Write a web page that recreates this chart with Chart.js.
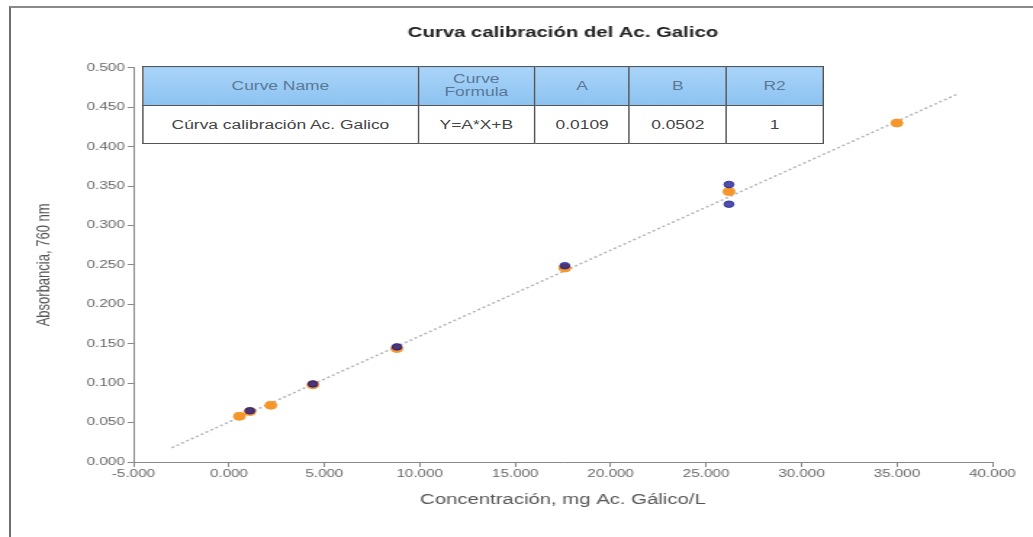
<!DOCTYPE html>
<html>
<head>
<meta charset="utf-8">
<script src="https://cdn.jsdelivr.net/npm/chart.js@4/dist/chart.umd.min.js"></script>
<style>
  body { margin: 0; background: #fff; }
  #wrap { position: relative; width: 1033px; height: 537px; overflow: hidden; }
  #frame { position: absolute; left: 9px; top: 6px; right: -5px; bottom: -5px;
           border-top: 2px solid #8a8a8a; border-left: 2px solid #6e6e6e; }
  /* la captura original esta estirada a lo ancho */
  #stretch { position: absolute; left: 0; top: 0; width: 712px; height: 537px;
             transform: scaleX(1.4508); transform-origin: 0 0; }
  canvas { position: absolute; left: 0; top: 0; }
  #curveTable { position: absolute; left: 98px; top: 66px; width: 470px; height: 78px;
                border-collapse: collapse; font-family: "Liberation Sans", Arial, sans-serif;
                font-size: 12px; background: #fff; }
  #curveTable td, #curveTable th { border: 1px solid #555; text-align: center; padding: 0 2px; font-weight: normal; }
  #curveTable th { background: linear-gradient(#a9d4f8, #8cc2f1); color: #5a7896; line-height: 13px; height: 38px; }
  #curveTable td { color: #444; height: 37px; }
</style>
</head>
<body>
<div id="wrap">
  <div id="frame"></div>
  <div id="stretch">
    <canvas id="chart" width="712" height="537"></canvas>
    <table id="curveTable"></table>
  </div>
</div>
<script>
// datos
const orangeX = [0.55, 1.1, 2.2, 4.4, 8.8, 17.6, 26.2, 35.0];
const orangeY = [0.058, 0.064, 0.072, 0.098, 0.144, 0.246, 0.343, 0.430];
const navyX = [1.1, 4.4, 8.8, 17.6, 26.2, 26.2];
const navyY = [0.065, 0.099, 0.146, 0.249, 0.352, 0.327];
const trendX = [-3.0, 38.2];
const trendY = [0.018, 0.467];

const tableHeaders = ["Curve Name", "Curve<br>Formula", "A", "B", "R2"];
const tableRow = ["Cúrva calibración Ac. Galico", "Y=A*X+B", "0.0109", "0.0502", "1"];
const colWidths = [198, 78, 63, 64, 67];

// tabla de la curva
const table = document.getElementById("curveTable");
table.innerHTML =
  "<tr>" + tableHeaders.map((h, i) => `<th style="width:${colWidths[i]}px">${h}</th>`).join("") + "</tr>" +
  "<tr>" + tableRow.map(v => `<td>${v}</td>`).join("") + "</tr>";

const toPoints = (xs, ys) => xs.map((x, i) => ({ x: x, y: ys[i] }));
const fam = "'Liberation Sans', Arial, sans-serif";
const tickFont = { family: fam, size: 10.5 };

new Chart(document.getElementById("chart").getContext("2d"), {
  type: "scatter",
  data: {
    datasets: [
      {
        label: "Replicas",
        data: toPoints(navyX, navyY),
        backgroundColor: "rgba(20, 20, 140, 0.75)",
        borderColor: "rgba(20, 20, 140, 0.75)",
        pointRadius: 3.3,
        pointHoverRadius: 3.3,
      },
      {
        label: "Estandares",
        data: toPoints(orangeX, orangeY),
        backgroundColor: "#f5962a",
        borderColor: "#f5962a",
        pointRadius: 4,
        pointHoverRadius: 4,
      },
      {
        label: "Ajuste",
        type: "line",
        data: toPoints(trendX, trendY),
        borderColor: "#b5b5b5",
        borderWidth: 1.5,
        borderDash: [2, 2],
        pointRadius: 0,
        fill: false,
      },
    ],
  },
  options: {
    responsive: false,
    animation: false,
    layout: { padding: { left: 0, right: 28, top: 0, bottom: 0 } },
    plugins: {
      legend: { display: false },
      tooltip: { enabled: false },
      title: {
        display: true,
        fullSize: false,
        text: "Curva calibración del Ac. Galico",
        color: "#222",
        font: { family: fam, size: 14, weight: "bold" },
        padding: { top: 25, bottom: 26 },
      },
    },
    scales: {
      x: {
        type: "linear",
        min: -5,
        max: 40,
        ticks: {
          stepSize: 5,
          color: "#666",
          font: tickFont,
          padding: 1,
          maxRotation: 0,
          callback: (v) => Number(v).toFixed(3),
        },
        grid: { drawOnChartArea: false, drawTicks: true, tickLength: 5, color: "#888" },
        border: { color: "#888" },
        title: {
          display: true,
          text: "Concentración, mg Ac. Gálico/L",
          color: "#555",
          font: { family: fam, size: 14 },
          padding: { top: 0, bottom: 28 },
        },
        afterFit: (scale) => { scale.height = 75; },
      },
      y: {
        type: "linear",
        min: 0,
        max: 0.5,
        ticks: {
          stepSize: 0.05,
          color: "#666",
          font: tickFont,
          padding: 2,
          callback: (v) => Number(v).toFixed(3),
        },
        grid: { drawOnChartArea: false, drawTicks: true, tickLength: 4, color: "#888" },
        border: { color: "#888" },
        title: {
          display: true,
          text: "Absorbancia, 760 nm",
          color: "#555",
          font: { family: fam, size: 13 },
          padding: { top: 23, bottom: 0 },
        },
        afterFit: (scale) => { scale.width = 92; },
      },
    },
  },
});
</script>
</body>
</html>
